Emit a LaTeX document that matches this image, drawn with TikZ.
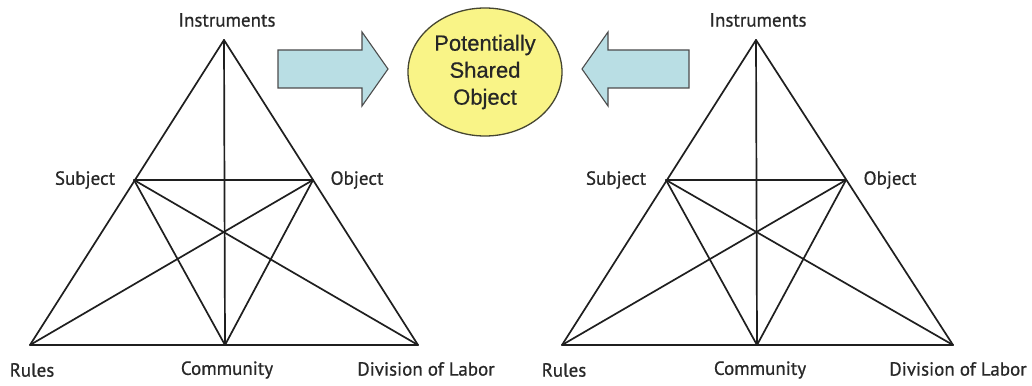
\documentclass[tikz,border=0pt]{standalone}
\usepackage{fontspec}
\setmainfont{PT Sans}
\newfontfamily\lblfont[FakeBold=0.7]{PT Sans}
\newfontfamily\arialfont[FakeBold=0.5]{Liberation Sans}
\usetikzlibrary{shapes.geometric}
\definecolor{arrowblue}{RGB}{185,222,228}
\definecolor{ellyellow}{RGB}{249,244,135}
\definecolor{ellborder}{RGB}{70,70,50}
\definecolor{labeltext}{RGB}{40,40,40}
\begin{document}
\begin{tikzpicture}[x=1pt,y=-1pt,
  edge/.style={line width=1.7pt, draw=black!88, line cap=round, line join=round},
  lbl/.style={font=\lblfont\fontsize{19}{21}\selectfont, text=labeltext, inner sep=0pt, anchor=center},
  bigarrow/.style={fill=arrowblue, draw=black!70, line width=1.1pt, line join=miter},
  objellipse/.style={ellipse, fill=ellyellow, draw=ellborder, line width=1.3pt,
    minimum width=154pt, minimum height=128pt, inner sep=0pt, align=center,
    font=\arialfont\fontsize{22}{27}\selectfont, text=black!85}]
\useasboundingbox (0,0) rectangle (1032,385);
\fill[white] (0,0) rectangle (1032,385);

% ---------- left triangle ----------
\coordinate (LA) at (224,40);
\coordinate (LS) at (134,180);
\coordinate (LO) at (313,180);
\coordinate (LR) at (30,345);
\coordinate (LC) at (225,345);
\coordinate (LD) at (418,345);
\draw[edge] (LA) -- (LR);
\draw[edge] (LA) -- (LD);
\draw[edge] (LR) -- (LD);
\draw[edge] (LA) -- (LC);
\draw[edge] (LS) -- (LO);
\draw[edge] (LS) -- (LC);
\draw[edge] (LS) -- (LD);
\draw[edge] (LO) -- (LR);
\draw[edge] (LO) -- (LC);

\node[lbl] (LAl) at (227,20) {Instruments};
\node[lbl] (LSl) at (85,180) {Subject};
\node[lbl] (LOl) at (357,180) {Object};
\node[lbl] (LRl) at (32,370) {Rules};
\node[lbl] (LCl) at (227,370) {Community};
\node[lbl] (LDl) at (426,369) {Division of Labor};

% ---------- right triangle ----------
\coordinate (RA) at (756,40);
\coordinate (RS) at (666,180);
\coordinate (RO) at (846,180);
\coordinate (RR) at (562,345);
\coordinate (RC) at (757,345);
\coordinate (RD) at (953,345);
\draw[edge] (RA) -- (RR);
\draw[edge] (RA) -- (RD);
\draw[edge] (RR) -- (RD);
\draw[edge] (RA) -- (RC);
\draw[edge] (RS) -- (RO);
\draw[edge] (RS) -- (RC);
\draw[edge] (RS) -- (RD);
\draw[edge] (RO) -- (RR);
\draw[edge] (RO) -- (RC);

\node[lbl] (RAl) at (758,20) {Instruments};
\node[lbl] (RSl) at (616,180) {Subject};
\node[lbl] (ROl) at (890,180) {Object};
\node[lbl] (RRl) at (564,370) {Rules};
\node[lbl] (RCl) at (760,370) {Community};
\node[lbl] (RDl) at (958,369) {Division of Labor};

% ---------- shared object ----------
\node[objellipse] (SO) at (485,72) {Potentially\\Shared\\Object};

% ---------- block arrows ----------
\draw[bigarrow] (278,50) -- (362,50) -- (362,32) -- (388,69) -- (362,106) -- (362,88) -- (278,88) -- cycle;
\draw[bigarrow] (689,50) -- (608,50) -- (608,32) -- (582,69) -- (608,106) -- (608,88) -- (689,88) -- cycle;
\end{tikzpicture}
\end{document}
